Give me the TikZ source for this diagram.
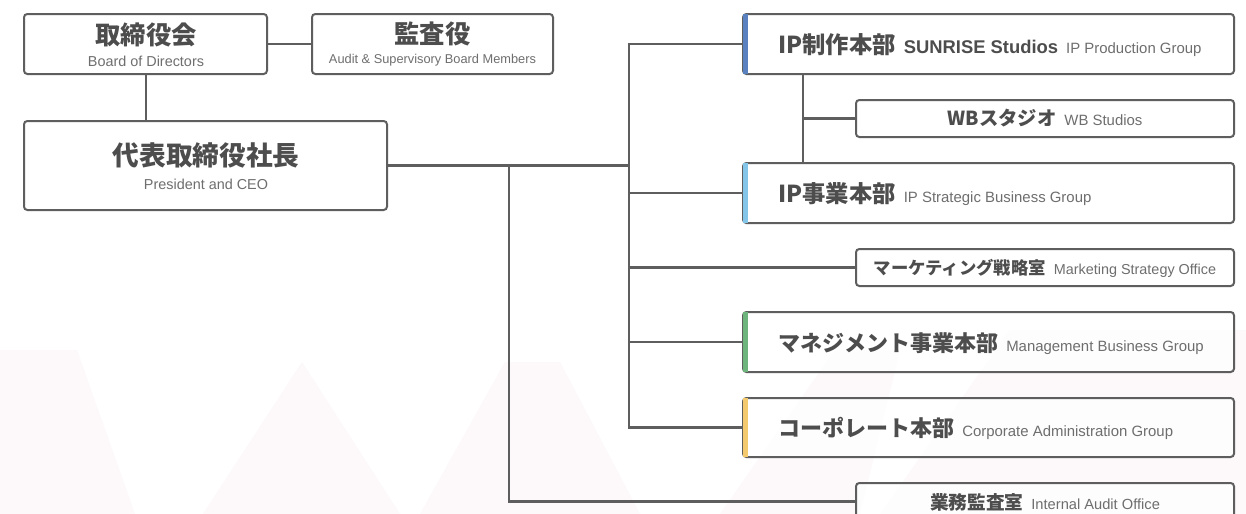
\documentclass[tikz,border=0pt]{standalone}
\usepackage{fontspec}
\setmainfont{Liberation Sans}
\newfontfamily\jp{Noto Sans CJK JP}
\usetikzlibrary{calc}
\definecolor{ink}{HTML}{4D4D4D}
\definecolor{subc}{HTML}{6E6E6E}
\definecolor{edge}{HTML}{5E5E5E}
\definecolor{barA}{HTML}{5B82C0}
\definecolor{barB}{HTML}{84C6EA}
\definecolor{barC}{HTML}{6DB47D}
\definecolor{barD}{HTML}{F4CA6E}
\definecolor{bgpink}{HTML}{F5E3EC}
\begin{document}
\begin{tikzpicture}[x=0.75pt,y=-0.75pt,
  box/.style={draw=edge, line width=1.5pt, rounded corners=2.5pt, fill=white, fill opacity=0.8, text opacity=1, inner sep=0pt, rectangle},
  sz/.style 2 args={minimum width=#1*0.75pt, minimum height=#2*0.75pt},
  conn/.style={draw=edge, line width=1.6pt},
  lbl/.style={inner sep=0pt, text=ink},
  jt/.style={font=\jp\bfseries\fontsize{#1}{#1}\selectfont},
  en/.style={text=subc, font=\fontsize{#1}{#1}\selectfont}
]
\useasboundingbox (0,0) rectangle (1246,514);
\clip (0,0) rectangle (1246,514);
\fill[white] (0,0) rectangle (1246,514);
% faint background stripes
\begin{scope}[fill=bgpink, fill opacity=0.2]
  \fill (0,350) -- (77,350) -- (135,514) -- (0,514) -- cycle;
  \fill (203,514) -- (302,362) -- (400,514) -- cycle;
  \fill (420,514) -- (505,362) -- (560,362) -- (640,514) -- cycle;
  \fill (720,514) -- (835,350) -- (900,350) -- (860,514) -- cycle;
  \fill (880,514) -- (1010,330) -- (1246,330) -- (1246,514) -- cycle;
\end{scope}

% boxes
\node[box, sz={243}{60}] (board) at (145.5,44) {};
\node[box, sz={241}{60}] (audit) at (432.5,44) {};
\node[box, sz={363}{89}] (pres) at (205.5,165.5) {};
\node[box, sz={491}{60}] (ipp) at (988.5,44) {};
\node[box, sz={378}{37}] (wb) at (1045,118.5) {};
\node[box, sz={491}{60}] (ipb) at (988.5,193) {};
\node[box, sz={378}{37}] (mkt) at (1045,267.5) {};
\node[box, sz={491}{60}] (mgmt) at (988.5,342) {};
\node[box, sz={491}{59}] (corp) at (988.5,427.5) {};
\node[box, sz={378}{37}] (iao) at (1045,501.5) {};

% colour bars
\fill[barA] ($(ipp.north west)+(0.9,0.9)$) rectangle ($(ipp.south west)+(6,-0.9)$);
\fill[barB] ($(ipb.north west)+(0.9,0.9)$) rectangle ($(ipb.south west)+(6,-0.9)$);
\fill[barC] ($(mgmt.north west)+(0.9,0.9)$) rectangle ($(mgmt.south west)+(6,-0.9)$);
\fill[barD] ($(corp.north west)+(0.9,0.9)$) rectangle ($(corp.south west)+(6,-0.9)$);

% texts
\node[lbl, jt=19] (boardT) at (146,35) {取締役会};
\node[lbl, en=10.8] (boardS) at (146,61) {Board of Directors};
\node[lbl, jt=19] (auditT) at (432.5,34) {監査役};
\node[lbl, en=9.6] (auditS) at (432.5,60) {Audit \& Supervisory Board Members};
\node[lbl, jt=20] (presT) at (206,155) {代表取締役社長};
\node[lbl, en=10.8] (presS) at (206,184) {President and CEO};

\node[lbl, anchor=base west] (ippT) at (778,53) {{\jp\bfseries\fontsize{17.5}{18}\selectfont IP制作本部}\hspace{6pt}{\bfseries\fontsize{13.8}{14}\selectfont SUNRISE Studios}\hspace{6pt}{\color{subc}\fontsize{11.2}{12}\selectfont IP Production Group}};
\node[lbl, anchor=base] (wbT) at (1045,125) {{\jp\bfseries\fontsize{14.5}{15}\selectfont WBスタジオ}\hspace{6pt}{\color{subc}\fontsize{11.2}{12}\selectfont WB Studios}};
\node[lbl, anchor=base west] (ipbT) at (778,202) {{\jp\bfseries\fontsize{17.5}{18}\selectfont IP事業本部}\hspace{6pt}{\color{subc}\fontsize{11.2}{12}\selectfont IP Strategic Business Group}};
\node[lbl, anchor=base] (mktT) at (1045,274) {{\jp\bfseries\fontsize{13}{14}\selectfont マーケティング戦略室}\hspace{6pt}{\color{subc}\fontsize{10.8}{12}\selectfont Marketing Strategy Office}};
\node[lbl, anchor=base west] (mgmtT) at (778,351) {{\jp\bfseries\fontsize{16.5}{18}\selectfont マネジメント事業本部}\hspace{6pt}{\color{subc}\fontsize{11.2}{12}\selectfont Management Business Group}};
\node[lbl, anchor=base west] (corpT) at (778,436) {{\jp\bfseries\fontsize{16.5}{18}\selectfont コーポレート本部}\hspace{6pt}{\color{subc}\fontsize{11.2}{12}\selectfont Corporate Administration Group}};
\node[lbl, anchor=base] (iaoT) at (1045,509) {{\jp\bfseries\fontsize{14}{15}\selectfont 業務監査室}\hspace{6pt}{\color{subc}\fontsize{11}{12}\selectfont Internal Audit Office}};

% connectors
\coordinate (ta) at (629,0);
\coordinate (tb) at (509,0);
\coordinate (tv) at (803,0);
\draw[conn] (board.east) -- (audit.west);
\draw[conn] (board.south -| 146,0) -- (146,0 |- pres.north);
\draw[conn] (pres.east) -- (ta |- pres.east);
\draw[conn] (ipp.west) -- (ta |- ipp.west) -- (ta |- corp.west) -- (corp.west);
\draw[conn] (ipb.west) -- (ta |- ipb.west);
\draw[conn] (mkt.west) -- (ta |- mkt.west);
\draw[conn] (mgmt.west) -- (ta |- mgmt.west);
\draw[conn] (tb |- pres.east) -- (tb |- iao.west) -- (iao.west);
\draw[conn] (tv |- ipp.south) -- (tv |- ipb.north);
\draw[conn] (tv |- wb.west) -- (wb.west);
\end{tikzpicture}
\end{document}
